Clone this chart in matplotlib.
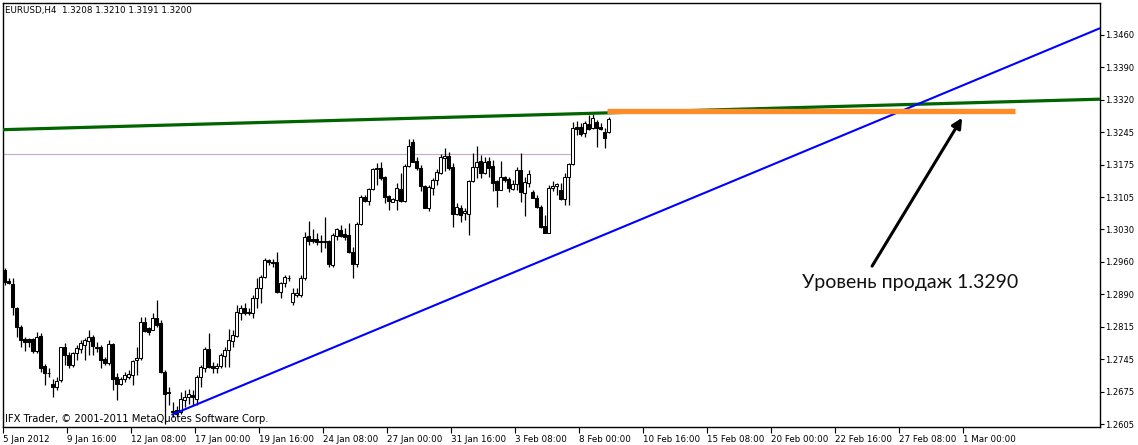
import numpy as np
import matplotlib
matplotlib.use("Agg")
import matplotlib.pyplot as plt
from matplotlib.patches import Rectangle

# EURUSD H4 candles, 5 Jan 2012 00:00 onwards
opens = [
    1.2943, 1.2919, 1.2912, 1.2859, 1.2818, 1.2791, 1.2791, 1.2791, 1.2765, 1.2798,
    1.2732, 1.2717, 1.2692, 1.2686, 1.2701, 1.2774, 1.2756, 1.2734, 1.2760, 1.2769,
    1.2778, 1.2787, 1.2796, 1.2774, 1.2774, 1.2747, 1.2738, 1.2780, 1.2708, 1.2692,
    1.2705, 1.2708, 1.2712, 1.2745, 1.2749, 1.2829, 1.2815, 1.2811, 1.2837, 1.2826,
    1.2719, 1.2675, 1.2633, 1.2635, 1.2631, 1.2657, 1.2664, 1.2668, 1.2661, 1.2708,
    1.2727, 1.2769, 1.2732, 1.2727, 1.2732, 1.2754, 1.2767, 1.2787, 1.2798, 1.2848,
    1.2859, 1.2851, 1.2848, 1.2881, 1.2903, 1.2928, 1.2965, 1.2960, 1.2961, 1.2895,
    1.2914, 1.2926, 1.2873, 1.2888, 1.2888, 1.2925, 1.3018, 1.3011, 1.3011, 1.3007,
    1.3007, 1.3007, 1.2954, 1.3018, 1.3031, 1.3022, 1.3020, 1.2983, 1.2956, 1.3044,
    1.3104, 1.3095, 1.3121, 1.3165, 1.3167, 1.3148, 1.3106, 1.3093, 1.3097, 1.3121,
    1.3095, 1.3172, 1.3225, 1.3183, 1.3167, 1.3128, 1.3079, 1.3123, 1.3141, 1.3156,
    1.3189, 1.3194, 1.3170, 1.3066, 1.3079, 1.3068, 1.3066, 1.3139, 1.3170, 1.3183,
    1.3156, 1.3183, 1.3172, 1.3139, 1.3119, 1.3148, 1.3143, 1.3121, 1.3132, 1.3163,
    1.3112, 1.3135, 1.3115, 1.3101, 1.3082, 1.3040, 1.3024, 1.3123, 1.3128, 1.3119,
    1.3099, 1.3148, 1.3176, 1.3258, 1.3258, 1.3244, 1.3264, 1.3255, 1.3269, 1.3258,
    1.3247, 1.3247]
highs = [
    1.2947, 1.2925, 1.2925, 1.2862, 1.2822, 1.2796, 1.2793, 1.2793, 1.2807, 1.2804,
    1.2736, 1.2727, 1.2705, 1.2708, 1.2774, 1.2782, 1.2763, 1.2763, 1.2778, 1.2789,
    1.2793, 1.2811, 1.2800, 1.2785, 1.2778, 1.2752, 1.2789, 1.2782, 1.2716, 1.2708,
    1.2719, 1.2723, 1.2745, 1.2774, 1.2840, 1.2840, 1.2818, 1.2848, 1.2877, 1.2833,
    1.2723, 1.2686, 1.2653, 1.2644, 1.2675, 1.2679, 1.2683, 1.2679, 1.2712, 1.2734,
    1.2774, 1.2804, 1.2741, 1.2738, 1.2760, 1.2774, 1.2813, 1.2811, 1.2866, 1.2866,
    1.2870, 1.2859, 1.2888, 1.2925, 1.2932, 1.2969, 1.2967, 1.2967, 1.2983, 1.2917,
    1.2932, 1.2932, 1.2903, 1.2903, 1.2932, 1.3027, 1.3051, 1.3033, 1.3024, 1.3020,
    1.3060, 1.3009, 1.3024, 1.3035, 1.3042, 1.3035, 1.3046, 1.2994, 1.3049, 1.3108,
    1.3108, 1.3123, 1.3167, 1.3178, 1.3181, 1.3150, 1.3108, 1.3101, 1.3134, 1.3156,
    1.3176, 1.3231, 1.3231, 1.3192, 1.3174, 1.3130, 1.3130, 1.3145, 1.3165, 1.3198,
    1.3211, 1.3203, 1.3178, 1.3090, 1.3086, 1.3079, 1.3141, 1.3200, 1.3216, 1.3196,
    1.3192, 1.3192, 1.3185, 1.3141, 1.3183, 1.3150, 1.3148, 1.3141, 1.3170, 1.3200,
    1.3148, 1.3163, 1.3119, 1.3108, 1.3086, 1.3064, 1.3130, 1.3139, 1.3134, 1.3134,
    1.3156, 1.3178, 1.3269, 1.3271, 1.3266, 1.3271, 1.3284, 1.3286, 1.3273, 1.3266,
    1.3255, 1.3280]
lows = [
    1.2910, 1.2912, 1.2844, 1.2796, 1.2774, 1.2765, 1.2774, 1.2760, 1.2760, 1.2719,
    1.2690, 1.2708, 1.2664, 1.2679, 1.2697, 1.2734, 1.2727, 1.2730, 1.2745, 1.2760,
    1.2745, 1.2756, 1.2756, 1.2763, 1.2727, 1.2734, 1.2734, 1.2679, 1.2657, 1.2690,
    1.2697, 1.2705, 1.2690, 1.2712, 1.2745, 1.2807, 1.2800, 1.2811, 1.2818, 1.2716,
    1.2606, 1.2646, 1.2620, 1.2620, 1.2628, 1.2642, 1.2650, 1.2646, 1.2646, 1.2686,
    1.2719, 1.2727, 1.2716, 1.2716, 1.2727, 1.2730, 1.2730, 1.2774, 1.2796, 1.2833,
    1.2844, 1.2844, 1.2837, 1.2859, 1.2870, 1.2925, 1.2954, 1.2950, 1.2892, 1.2881,
    1.2906, 1.2919, 1.2866, 1.2884, 1.2884, 1.2921, 1.2998, 1.3002, 1.2998, 1.2983,
    1.2991, 1.2950, 1.2950, 1.3009, 1.3016, 1.3009, 1.2980, 1.2925, 1.2950, 1.3042,
    1.3093, 1.3086, 1.3119, 1.3130, 1.3141, 1.3090, 1.3075, 1.3093, 1.3075, 1.3093,
    1.3093, 1.3170, 1.3181, 1.3163, 1.3117, 1.3079, 1.3073, 1.3108, 1.3130, 1.3154,
    1.3161, 1.3163, 1.3038, 1.3064, 1.3049, 1.3053, 1.3020, 1.3137, 1.3145, 1.3145,
    1.3154, 1.3148, 1.3117, 1.3082, 1.3119, 1.3137, 1.3115, 1.3119, 1.3119, 1.3093,
    1.3062, 1.3126, 1.3101, 1.3079, 1.3035, 1.3024, 1.3024, 1.3117, 1.3108, 1.3097,
    1.3086, 1.3086, 1.3174, 1.3240, 1.3238, 1.3236, 1.3251, 1.3253, 1.3214, 1.3251,
    1.3211, 1.3244]
closes = [
    1.2917, 1.2914, 1.2862, 1.2818, 1.2789, 1.2785, 1.2785, 1.2765, 1.2796, 1.2727,
    1.2716, 1.2716, 1.2686, 1.2699, 1.2774, 1.2756, 1.2734, 1.2760, 1.2771, 1.2782,
    1.2789, 1.2796, 1.2776, 1.2773, 1.2745, 1.2738, 1.2780, 1.2705, 1.2692, 1.2703,
    1.2712, 1.2714, 1.2743, 1.2749, 1.2829, 1.2809, 1.2807, 1.2837, 1.2822, 1.2719,
    1.2672, 1.2674, 1.2631, 1.2628, 1.2659, 1.2664, 1.2670, 1.2664, 1.2708, 1.2730,
    1.2769, 1.2730, 1.2727, 1.2732, 1.2756, 1.2767, 1.2789, 1.2800, 1.2851, 1.2859,
    1.2848, 1.2850, 1.2881, 1.2903, 1.2928, 1.2965, 1.2961, 1.2959, 1.2895, 1.2914,
    1.2928, 1.2925, 1.2892, 1.2892, 1.2925, 1.3016, 1.3007, 1.3007, 1.3005, 1.3005,
    1.3006, 1.2956, 1.3020, 1.3033, 1.3018, 1.3016, 1.2983, 1.2956, 1.3044, 1.3104,
    1.3095, 1.3121, 1.3165, 1.3167, 1.3145, 1.3104, 1.3095, 1.3099, 1.3123, 1.3095,
    1.3172, 1.3216, 1.3181, 1.3167, 1.3128, 1.3079, 1.3126, 1.3141, 1.3159, 1.3192,
    1.3194, 1.3167, 1.3066, 1.3082, 1.3064, 1.3073, 1.3139, 1.3170, 1.3181, 1.3156,
    1.3181, 1.3167, 1.3134, 1.3119, 1.3148, 1.3141, 1.3123, 1.3132, 1.3163, 1.3115,
    1.3137, 1.3154, 1.3101, 1.3082, 1.3038, 1.3024, 1.3123, 1.3128, 1.3132, 1.3099,
    1.3148, 1.3176, 1.3255, 1.3253, 1.3242, 1.3266, 1.3253, 1.3277, 1.3255, 1.3253,
    1.3233, 1.3275]

# x tick labels every 16 bars
time_labels = ['5 Jan 2012', '9 Jan 16:00', '12 Jan 08:00', '17 Jan 00:00',
               '19 Jan 16:00', '24 Jan 08:00', '27 Jan 00:00', '31 Jan 16:00',
               '3 Feb 08:00', '8 Feb 00:00', '10 Feb 16:00', '15 Feb 08:00',
               '20 Feb 00:00', '22 Feb 16:00', '27 Feb 08:00', '1 Mar 00:00']
price_labels = ['1.2605', '1.2675', '1.2745', '1.2815', '1.2890', '1.2960', '1.3030',
                '1.3105', '1.3175', '1.3245', '1.3320', '1.3390', '1.3460']

# drawn objects (bar index, price)
green_x, green_y = [0, 270], [1.3252, 1.3318]
blue_x, blue_y = [41.75, 273.9], [1.2625, 1.3475]
orange_x, orange_y = [150.6, 252.6], [1.3292, 1.3292]
bid_x, bid_y = [-0.4, 141.4], [1.3198, 1.3198]
arrow_from, arrow_to = (216.9, 1.2952), (239.4, 1.3278)
note_pos = (199.4, 1.2917)

W, H = 1138, 445
fig = plt.figure(figsize=(W / 100, H / 100), dpi=100)
ax = fig.add_axes([3 / W, (H - 427) / H, 1097 / W, 424 / H])

px = 0.00021979  # price per pixel
ax.set_xlim(-0.375, -0.375 + 1097 / 4)
ax.set_ylim(1.2605 - 3 * px, 1.3460 + 32 * px)

# bid line
ax.plot(bid_x, bid_y, color='#c8a8c8', lw=0.8, zorder=1)

# candles
for i in range(len(opens)):
    o, h, l, c = opens[i], highs[i], lows[i], closes[i]
    ax.vlines(i, l, h, color='black', lw=0.9, zorder=2)
    face = 'white' if c >= o else 'black'
    ax.add_patch(Rectangle((i - 0.3, min(o, c)), 0.6, abs(c - o),
                           facecolor=face, edgecolor='black', lw=0.75, zorder=3))

# trend lines
gx = np.array(ax.get_xlim())
gslope = (green_y[1] - green_y[0]) / (green_x[1] - green_x[0])
ax.plot(gx, green_y[0] + gslope * (gx - green_x[0]), color='#006400', lw=2.3, zorder=4,
        solid_capstyle='butt')
ax.plot(blue_x, blue_y, color='#0000ff', lw=1.5, zorder=5, solid_capstyle='butt')
ax.plot(orange_x, orange_y, color='#ff8c28', lw=3.8, zorder=6, solid_capstyle='butt')

ax.annotate('', xy=arrow_to, xytext=arrow_from,
            arrowprops=dict(arrowstyle='-|>,head_length=0.6,head_width=0.3',
                            color='black', lw=2.2, shrinkA=0, shrinkB=0), zorder=7)
ax.text(note_pos[0], note_pos[1], 'Уровень продаж 1.3290', fontsize=14,
        family='Lato', color='#111111', va='center', ha='left', zorder=7)

# header and copyright
ax.text(2 / 1097, (427 - 10) / 424, 'EURUSD,H4  1.3208 1.3210 1.3191 1.3200',
        transform=ax.transAxes, fontsize=6.3, family='DejaVu Sans', va='center', ha='left')
ax.text(2 / 1097, (427 - 419) / 424, 'IFX Trader, © 2001-2011 MetaQuotes Software Corp.',
        transform=ax.transAxes, fontsize=7.2, family='DejaVu Sans', va='center', ha='left')

# axes styling like the terminal
for s in ax.spines.values():
    s.set_linewidth(1.0)
    s.set_color('black')

ax.set_xticks([16 * k - 0.375 for k in range(len(time_labels))])
ax.set_xticklabels(time_labels, ha='left', fontsize=6.3, family='DejaVu Sans')
ytick_vals = np.linspace(1.2605, 1.3460, len(price_labels))
ax.set_yticks(ytick_vals)
ax.set_yticklabels(price_labels, fontsize=6.0, family='DejaVu Sans')
ax.yaxis.tick_right()
ax.tick_params(axis='x', direction='out', length=4, width=0.8, pad=1.5)
ax.tick_params(axis='y', direction='out', length=3, width=0.8, pad=1)

fig.savefig('out.png', dpi=100, facecolor='white')
